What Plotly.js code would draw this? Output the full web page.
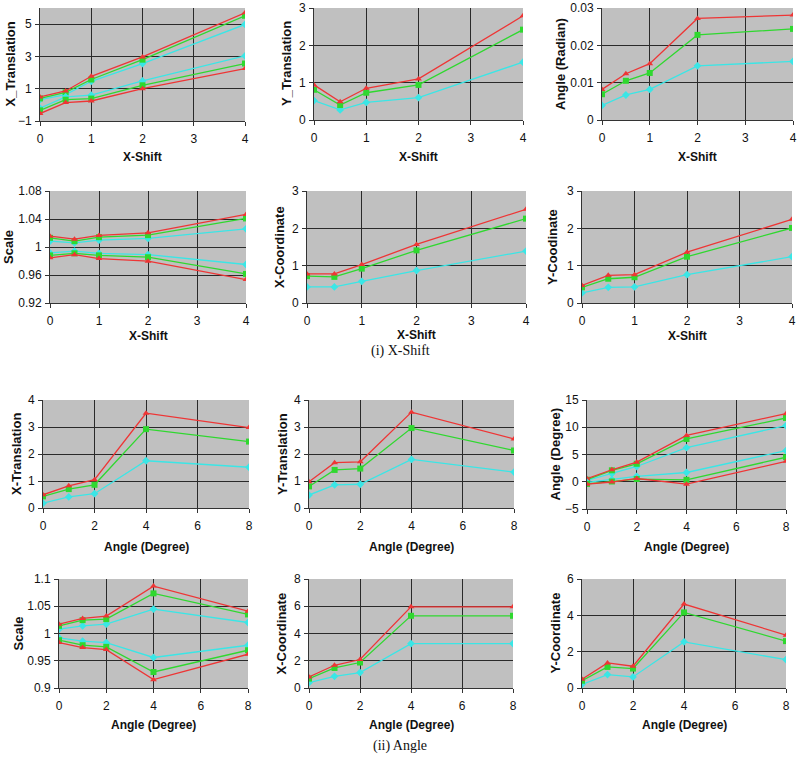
<!DOCTYPE html>
<html><head><meta charset="utf-8">
<script src="https://cdn.plot.ly/plotly-3.0.1.min.js"></script>
<style>html,body{margin:0;padding:0;background:#fff}#chart{width:800px;height:759px}</style>
</head><body><div id="chart"></div>
<script>
// ---------- X values ----------
const xShift = [0, 0.5, 1, 2, 4];
const angleDeg = [0, 1, 2, 4, 8];

// ---------- (i) X-Shift ----------
// X_Translation (two bands)
const xtRedUp   = [0.49, 0.86, 1.77, 2.97, 5.70];
const xtGreenUp = [0.40, 0.78, 1.57, 2.80, 5.52];
const xtCyanUp  = [0.32, 0.63, 1.46, 2.56, 4.98];
const xtCyanLo  = [-0.20, 0.49, 0.60, 1.48, 3.03];
const xtGreenLo = [-0.34, 0.32, 0.39, 1.21, 2.56];
const xtRedLo   = [-0.54, 0.14, 0.24, 1.00, 2.25];
// Y_Translation
const ytRed   = [0.94, 0.49, 0.85, 1.10, 2.79];
const ytGreen = [0.81, 0.40, 0.73, 0.94, 2.42];
const ytCyan  = [0.52, 0.27, 0.47, 0.60, 1.55];
// Angle (Radian)
const arRed   = [0.0082, 0.0124, 0.0151, 0.0272, 0.0281];
const arGreen = [0.0069, 0.0105, 0.0126, 0.0228, 0.0244];
const arCyan  = [0.0039, 0.0067, 0.0082, 0.0145, 0.0157];
// Scale (two bands)
const scRedUp   = [1.0155, 1.0112, 1.0165, 1.0203, 1.0466];
const scGreenUp = [1.0131, 1.0083, 1.0140, 1.0169, 1.0408];
const scCyanUp  = [1.0083, 1.0060, 1.0098, 1.0122, 1.0260];
const scCyanLo  = [0.9916, 0.9940, 0.9910, 0.9892, 0.9750];
const scGreenLo = [0.9880, 0.9910, 0.9880, 0.9854, 0.9615];
const scRedLo   = [0.9845, 0.9890, 0.9835, 0.9797, 0.9534];
// X-Coordinate
const xcRed   = [0.78, 0.78, 1.03, 1.57, 2.51];
const xcGreen = [0.72, 0.70, 0.92, 1.41, 2.26];
const xcCyan  = [0.43, 0.43, 0.58, 0.87, 1.39];
// Y-Coodinate
const ycRed   = [0.47, 0.74, 0.76, 1.36, 2.24];
const ycGreen = [0.42, 0.65, 0.69, 1.24, 2.01];
const ycCyan  = [0.27, 0.42, 0.43, 0.76, 1.24];

// ---------- (ii) Angle ----------
const axtRed   = [0.49, 0.82, 1.05, 3.51, 2.98];
const axtGreen = [0.43, 0.70, 0.86, 2.92, 2.46];
const axtCyan  = [0.18, 0.41, 0.53, 1.75, 1.51];
const aytRed   = [0.97, 1.68, 1.71, 3.55, 2.56];
const aytGreen = [0.80, 1.41, 1.46, 2.96, 2.13];
const aytCyan  = [0.48, 0.86, 0.88, 1.80, 1.33];
const adRedUp   = [0.55, 2.2, 3.6, 8.5, 12.5];
const adGreenUp = [0.37, 2.1, 3.3, 7.85, 11.7];
const adCyanUp  = [0.25, 1.5, 2.8, 6.25, 10.3];
const adCyanLo  = [-0.1, 0.4, 1.0, 1.7, 5.7];
const adGreenLo = [-0.4, 0.05, 0.5, 0.35, 4.5];
const adRedLo   = [-0.45, -0.05, 0.6, -0.45, 3.75];
const asRedUp   = [1.0172, 1.0276, 1.0319, 1.0870, 1.0410];
const asGreenUp = [1.0141, 1.0245, 1.0264, 1.0736, 1.0350];
const asCyanUp  = [1.0080, 1.0141, 1.0172, 1.0448, 1.0202];
const asCyanLo  = [0.9920, 0.9860, 0.9834, 0.9560, 0.9785];
const asGreenLo = [0.9877, 0.9785, 0.9755, 0.9294, 0.9693];
const asRedLo   = [0.9834, 0.9742, 0.9705, 0.9153, 0.9620];
const axcRed   = [0.81, 1.67, 2.09, 5.96, 5.96];
const axcGreen = [0.69, 1.47, 1.87, 5.30, 5.30];
const axcCyan  = [0.39, 0.86, 1.13, 3.26, 3.26];
const aycRed   = [0.48, 1.38, 1.20, 4.62, 2.91];
const aycGreen = [0.40, 1.16, 1.07, 4.16, 2.58];
const aycCyan  = [0.20, 0.74, 0.61, 2.54, 1.56];

// ---------- Labels ----------
const yTitles = ['X_Translation','Y_Translation','Angle (Radian)','Scale','X-Coordinate','Y-Coodinate',
                 'X-Translation','Y-Translation','Angle (Degree)','Scale','X-Coordinate','Y-Coordinate'];
const xTitleShift = 'X-Shift';
const xTitleAngle = 'Angle (Degree)';
const captions = ['(i) X-Shift', '(ii) Angle'];

// ---------- Styles ----------
const RED = '#ee3535', GREEN = '#2fd82f', CYAN = '#3ae6e6';
const sty = {
  r: {color: RED, symbol: 'triangle-up'},
  g: {color: GREEN, symbol: 'square'},
  c: {color: CYAN, symbol: 'diamond'}
};

const W = 800, H = 759;
// panel pixel boxes [left, right, top, bottom]; xto = x-title offset below plot
const panels = [
  {box:[40,245,8,121],   x:xShift, yr:[-1,6],    t0:-1, dt:2,   xdt:1, series:[['c',xtCyanUp],['g',xtGreenUp],['r',xtRedUp],['c',xtCyanLo],['g',xtGreenLo],['r',xtRedLo]], ytx:10, xtitle:xTitleShift, xto:36},
  {box:[314,523,8,120],  x:xShift, yr:[0,3],     t0:0,  dt:1,   xdt:1, series:[['c',ytCyan],['g',ytGreen],['r',ytRed]], ytx:286, xtitle:xTitleShift, xto:37},
  {box:[602,793,8,120],  x:xShift, yr:[0,0.03],  t0:0,  dt:0.01,xdt:1, series:[['c',arCyan],['g',arGreen],['r',arRed]], ytx:560, xtitle:xTitleShift, xto:37},
  {box:[50,246,191,303], x:xShift, yr:[0.92,1.08],t0:0.92,dt:0.04,xdt:1, series:[['c',scCyanUp],['g',scGreenUp],['r',scRedUp],['c',scCyanLo],['g',scGreenLo],['r',scRedLo]], ytx:9, xtitle:xTitleShift, xto:33},
  {box:[307,526,191,303],x:xShift, yr:[0,3],     t0:0,  dt:1,   xdt:1, series:[['c',xcCyan],['g',xcGreen],['r',xcRed]], ytx:280, xtitle:xTitleShift, xto:32},
  {box:[582,792,191,303],x:xShift, yr:[0,3],     t0:0,  dt:1,   xdt:1, series:[['c',ycCyan],['g',ycGreen],['r',ycRed]], ytx:553, xtitle:xTitleShift, xto:33},
  {box:[43,249,400,508], x:angleDeg, yr:[0,4],   t0:0,  dt:1,   xdt:2, series:[['c',axtCyan],['g',axtGreen],['r',axtRed]], ytx:17, xtitle:xTitleAngle, xto:39},
  {box:[309,514,400,508],x:angleDeg, yr:[0,4],   t0:0,  dt:1,   xdt:2, series:[['c',aytCyan],['g',aytGreen],['r',aytRed]], ytx:283, xtitle:xTitleAngle, xto:39},
  {box:[587,786,400,509],x:angleDeg, yr:[-5,15], t0:-5, dt:5,   xdt:2, series:[['c',adCyanUp],['g',adGreenUp],['r',adRedUp],['c',adCyanLo],['g',adGreenLo],['r',adRedLo]], ytx:555, xtitle:xTitleAngle, xto:38},
  {box:[59,248,579,688], x:angleDeg, yr:[0.9,1.1],t0:0.9,dt:0.05,xdt:2, series:[['c',asCyanUp],['g',asGreenUp],['r',asRedUp],['c',asCyanLo],['g',asGreenLo],['r',asRedLo]], ytx:18, xtitle:xTitleAngle, xto:37},
  {box:[309,513,579,688],x:angleDeg, yr:[0,8],   t0:0,  dt:2,   xdt:2, series:[['c',axcCyan],['g',axcGreen],['r',axcRed]], ytx:281, xtitle:xTitleAngle, xto:37},
  {box:[582,786,579,688],x:angleDeg, yr:[0,6],   t0:0,  dt:2,   xdt:2, series:[['c',aycCyan],['g',aycGreen],['r',aycRed]], ytx:555, xtitle:xTitleAngle, xto:37}
];

const FONT = 'Arial, "Liberation Sans", sans-serif';
const traces = [];
const layout = {
  width: W, height: H,
  margin: {l:0, r:0, t:0, b:0},
  paper_bgcolor: '#ffffff',
  plot_bgcolor: '#c0c0c0',
  showlegend: false,
  font: {family: FONT, size: 11, color: '#111'},
  annotations: []
};

panels.forEach((p, i) => {
  const n = i === 0 ? '' : String(i + 1);
  const [l, r, t, b] = p.box;
  layout['xaxis' + n] = {
    domain: [l / W, r / W], anchor: 'y' + n,
    range: [0, p.x[p.x.length - 1]], tick0: 0, dtick: p.xdt,
    showgrid: true, gridcolor: '#2a2a2a', gridwidth: 1, zeroline: false,
    showline: true, linecolor: '#333', linewidth: 1,
    ticks: 'outside', ticklen: 4, tickcolor: '#333', ticklabelstandoff: 3,
    tickfont: {family: FONT, size: 12, color: '#111'}, fixedrange: true
  };
  layout['yaxis' + n] = {
    domain: [1 - b / H, 1 - t / H], anchor: 'x' + n,
    range: p.yr, tick0: p.t0, dtick: p.dt,
    showgrid: true, gridcolor: '#2a2a2a', gridwidth: 1, zeroline: false,
    showline: true, linecolor: '#333', linewidth: 1,
    ticks: 'outside', ticklen: 4, tickcolor: '#333', ticklabelstandoff: 1,
    tickfont: {family: FONT, size: 12, color: '#111'}, fixedrange: true
  };
  p.series.forEach(([k, vals]) => {
    traces.push({
      type: 'scatter', mode: 'lines+markers',
      x: p.x, y: vals,
      xaxis: 'x' + n, yaxis: 'y' + n,
      line: {color: sty[k].color, width: 1.3},
      marker: {color: sty[k].color, symbol: sty[k].symbol, size: 6},
      hoverinfo: 'skip'
    });
  });
  // y title
  layout.annotations.push({
    xref: 'paper', yref: 'paper', x: p.ytx / W, y: 1 - ((t + b) / 2) / H,
    text: '<b>' + yTitles[i] + '</b>', textangle: -90, showarrow: false,
    xanchor: 'center', yanchor: 'middle', font: {family: FONT, size: 13, color: '#111'}
  });
  // x title
  layout.annotations.push({
    xref: 'paper', yref: 'paper', x: ((l + r) / 2) / W, y: 1 - (b + p.xto) / H,
    text: '<b>' + p.xtitle + '</b>', showarrow: false,
    xanchor: 'center', yanchor: 'middle', font: {family: FONT, size: 12, color: '#111'}
  });
});

// captions
[[captions[0], 351], [captions[1], 746]].forEach(([txt, py]) => {
  layout.annotations.push({
    xref: 'paper', yref: 'paper', x: 0.5, y: 1 - py / H,
    text: txt, showarrow: false, xanchor: 'center', yanchor: 'middle',
    font: {family: '"Liberation Serif", "DejaVu Serif", serif', size: 14, color: '#111'}
  });
});

Plotly.newPlot('chart', traces, layout, {displayModeBar: false, staticPlot: true});
</script>
</body></html>
